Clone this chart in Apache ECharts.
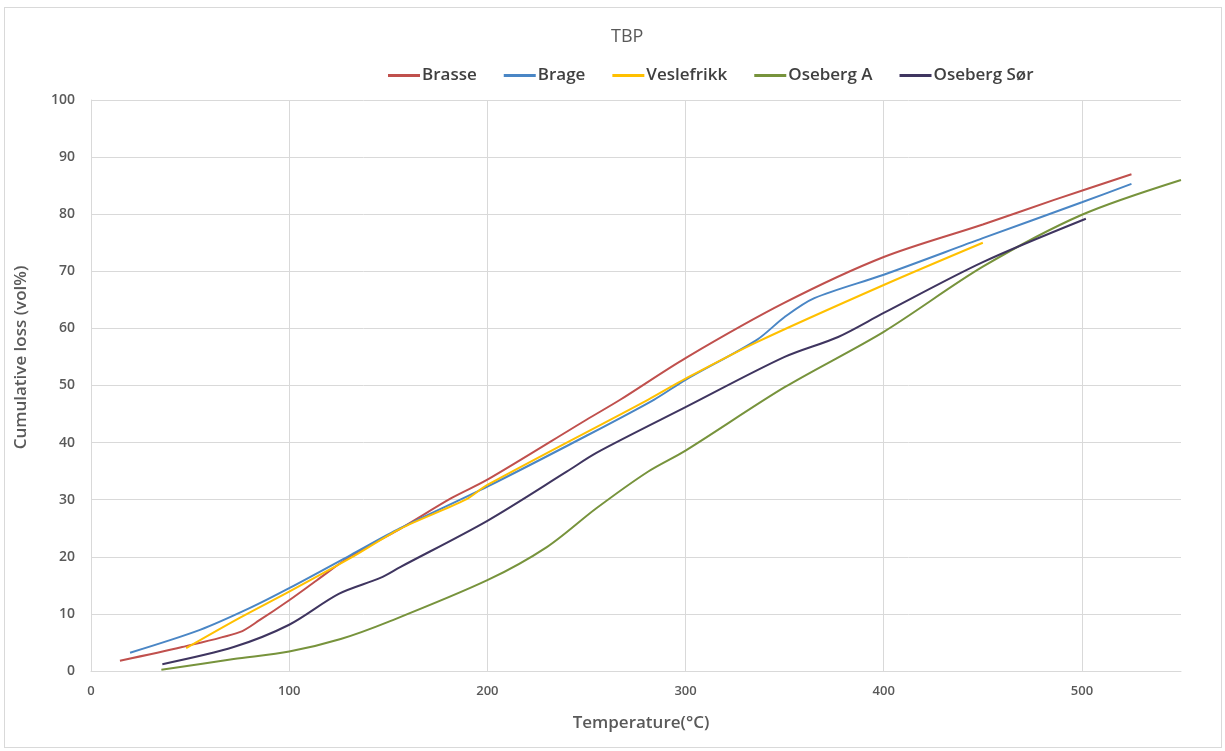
<!DOCTYPE html>
<html>
<head>
<meta charset="utf-8">
<title>TBP</title>
<script src="https://cdn.jsdelivr.net/npm/echarts@6/dist/echarts.min.js"></script>
<style>
  html, body { margin: 0; padding: 0; background: #fff; }
  #frame {
    position: absolute; left: 4px; top: 7px; width: 1216px; height: 739px;
    border: 1px solid #d9d9d9;
  }
  #chart { position: absolute; left: 0; top: 0; width: 1225px; height: 751px; }
</style>
</head>
<body>
<div id="frame"></div>
<div id="chart"></div>
<script>
// [temperature °C, cumulative loss vol%]
const brasse = [[14.6,1.8],[46,4.2],[75,6.8],[85,8.9],[100,12.4],[114,15.9],[131,20.1],[156,24.9],[182,30.3],[200,33.5],[250,44],[267,47.5],[300,54.8],[350,64.5],[400,72.5],[450,78.2],[486,82.5],[525,87]]
const brage = [[19.7,3.2],[55,7.2],[80,11],[100,14.5],[131,20.3],[156,25],[200,32.3],[250,41.2],[284,47.5],[300,51],[336,58],[350,62],[365,65.3],[400,69.4],[450,75.8],[500,82.1],[525,85.3]]
const veslefrikk = [[48,4],[75,9.3],[100,13.9],[131,19.8],[156,24.9],[189,30],[200,32.6],[281,47.5],[300,51.2],[336,57.6],[400,67.6],[450,75]]
const osebergA = [[35.5,0.2],[72,2.1],[100,3.4],[126,5.6],[150,8.6],[200,15.9],[230,21.7],[255,28.5],[281,34.9],[300,38.6],[350,49.7],[400,59.4],[450,70.8],[500,79.9],[550,86]]
const osebergSor = [[36,1.2],[72,4.2],[100,8.1],[125,13.5],[146,16.3],[156,18.2],[200,26.3],[240,34.9],[255,38.2],[300,46.2],[350,55],[377,58.5],[400,62.7],[450,71.6],[502,79.2]]

const seriesNames = ['Brasse', 'Brage', 'Veslefrikk', 'Oseberg A', 'Oseberg Sør']
const seriesData = [brasse, brage, veslefrikk, osebergA, osebergSor]
const colors = ['#C0504D', '#4A86C5', '#FFC000', '#77933C', '#3F3560']

const font = '"Open Sans", "Noto Sans", sans-serif'

const chart = echarts.init(document.getElementById('chart'))

chart.setOption({
  animation: false,
  backgroundColor: 'transparent',
  title: {
    text: 'TBP',
    left: 606,
    top: 23,
    textStyle: { color: '#595959', fontSize: 18, fontWeight: 'normal', fontFamily: font },
  },
  legend: {
    data: seriesNames,
    left: 383,
    top: 62,
    icon: 'rect',
    itemWidth: 32,
    itemHeight: 3,
    itemGap: 27,
    textStyle: { color: '#404040', fontSize: 17, fontWeight: 600, fontFamily: font, padding: [0, 0, 0, -3] },
  },
  grid: { left: 91, right: 44, top: 100, bottom: 80, containLabel: false },
  xAxis: {
    type: 'value',
    min: 0,
    max: 550,
    interval: 100,
    name: 'Temperature(°C)',
    nameLocation: 'middle',
    nameGap: 44,
    nameTextStyle: { color: '#595959', fontSize: 17, fontWeight: 600, fontFamily: font, padding: [0, 0, 0, 10] },
    axisLine: { show: true, lineStyle: { color: '#d9d9d9', width: 1 } },
    axisTick: { show: false },
    axisLabel: {
      color: '#595959', fontSize: 13, fontWeight: 600, fontFamily: font, margin: 14,
      showMaxLabel: false,
    },
    splitLine: { show: true, showMaxLine: false, lineStyle: { color: '#d9d9d9', width: 1 } },
  },
  yAxis: {
    type: 'value',
    min: 0,
    max: 100,
    interval: 10,
    name: 'Cumulative loss (vol%)',
    nameLocation: 'middle',
    nameGap: 61,
    nameTextStyle: { color: '#595959', fontSize: 17, fontWeight: 600, fontFamily: font, padding: [0, 0, 0, 56] },
    axisLine: { show: true, lineStyle: { color: '#d9d9d9', width: 1 } },
    axisTick: { show: false },
    axisLabel: { color: '#595959', fontSize: 14, fontWeight: 600, fontFamily: font, margin: 16 },
    splitLine: { show: true, lineStyle: { color: '#d9d9d9', width: 1 } },
  },
  series: seriesNames.map((name, i) => ({
    name,
    type: 'line',
    data: seriesData[i],
    smooth: 0.3,
    showSymbol: false,
    symbol: 'none',
    lineStyle: { color: colors[i], width: 2 },
    itemStyle: { color: colors[i] },
  })),
})
</script>
</body>
</html>
